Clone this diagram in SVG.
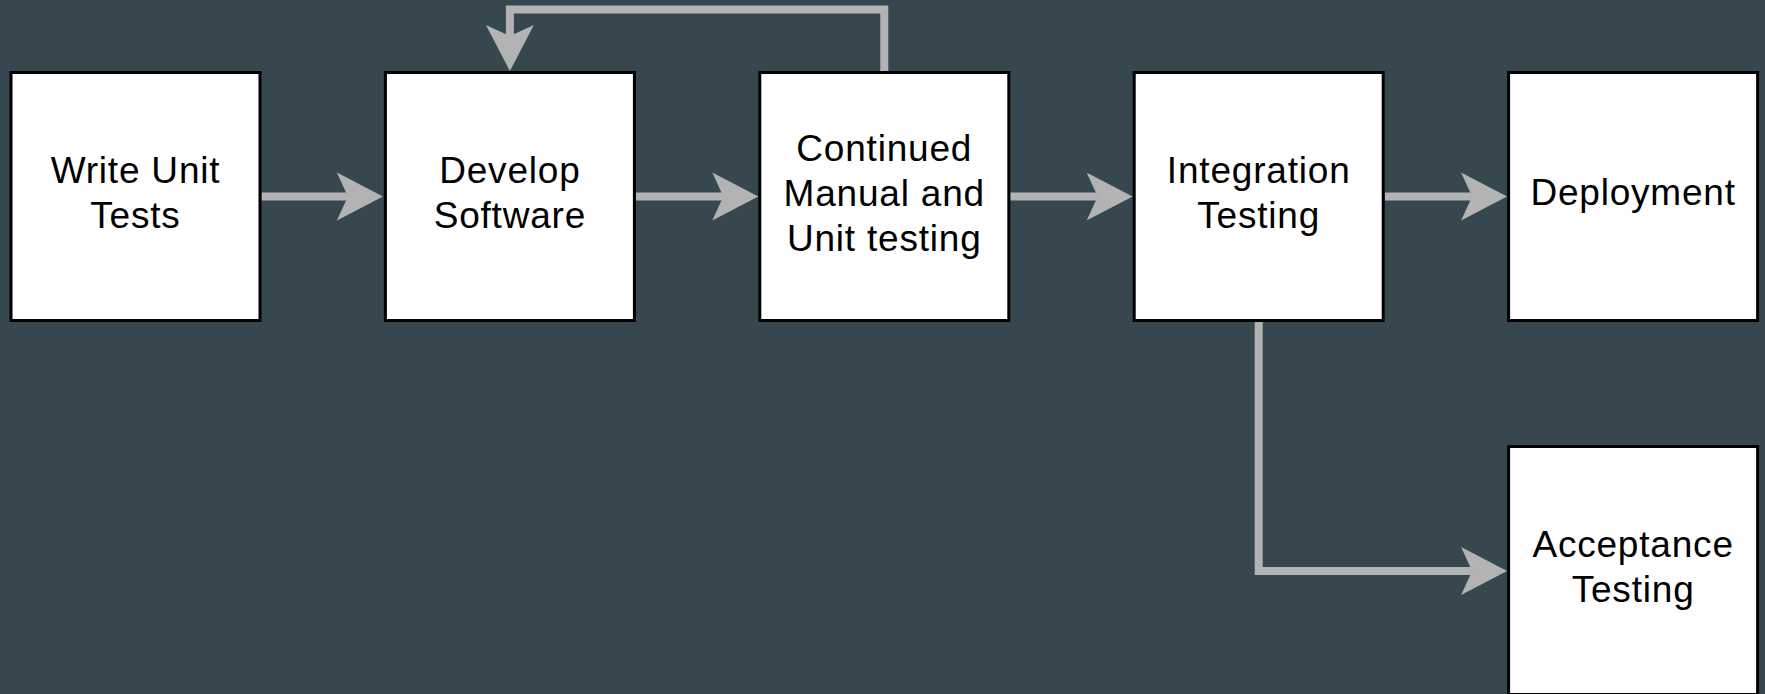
<svg xmlns="http://www.w3.org/2000/svg" width="1765" height="694" viewBox="0 0 1765 694">
  <style>
    .box { fill: #ffffff; stroke: #000000; stroke-width: 3; }
    .lbl { font-family: "Liberation Sans", Arial, sans-serif; font-size: 37px; letter-spacing: 0.8px; fill: #000000; text-anchor: middle; }
    .edge { fill: none; stroke: #b3b3b3; stroke-width: 8; stroke-linejoin: miter; stroke-linecap: butt; marker-end: url(#arrow); }
  </style>
  <defs>
    <!-- notched arrowhead; reference point sits in the notch so the line ends inside it -->
    <marker id="arrow" markerUnits="userSpaceOnUse" markerWidth="48" markerHeight="50" viewBox="0 0 48 50" refX="11" refY="25" orient="auto">
      <path d="M0,1 L46,25 L0,49 L11,25 Z" fill="#b3b3b3"/>
    </marker>
  </defs>

  <rect width="1765" height="694" fill="#37474f"/>

  <g id="connectors">
    <path class="edge" d="M261.5,196.5 H347.9"/>
    <path class="edge" d="M635.9,196.5 H723.3"/>
    <path class="edge" d="M1010.3,196.5 H1097.7"/>
    <path class="edge" d="M1384.7,196.5 H1472.1"/>
    <path class="edge" d="M884.3,71 V9.5 H509.9 V36"/>
    <path class="edge" d="M1258.7,322 V571 H1472.1"/>
  </g>

  <g id="write-unit-tests">
    <rect class="box" x="11" y="72.5" width="249" height="248"/>
    <text class="lbl" x="135.5" y="183">Write Unit</text>
    <text class="lbl" x="135.5" y="228">Tests</text>
  </g>

  <g id="develop-software">
    <rect class="box" x="385.4" y="72.5" width="249" height="248"/>
    <text class="lbl" x="509.9" y="183">Develop</text>
    <text class="lbl" x="509.9" y="228">Software</text>
  </g>

  <g id="continued-testing">
    <rect class="box" x="759.8" y="72.5" width="249" height="248"/>
    <text class="lbl" x="884.3" y="161">Continued</text>
    <text class="lbl" x="884.3" y="206">Manual and</text>
    <text class="lbl" x="884.3" y="251">Unit testing</text>
  </g>

  <g id="integration-testing">
    <rect class="box" x="1134.2" y="72.5" width="249" height="248"/>
    <text class="lbl" x="1258.7" y="183">Integration</text>
    <text class="lbl" x="1258.7" y="228">Testing</text>
  </g>

  <g id="deployment">
    <rect class="box" x="1508.6" y="72.5" width="249" height="248"/>
    <text class="lbl" x="1633.1" y="205">Deployment</text>
  </g>

  <g id="acceptance-testing">
    <rect class="box" x="1508.6" y="446.5" width="249" height="248"/>
    <text class="lbl" x="1633.1" y="557">Acceptance</text>
    <text class="lbl" x="1633.1" y="602">Testing</text>
  </g>
</svg>
